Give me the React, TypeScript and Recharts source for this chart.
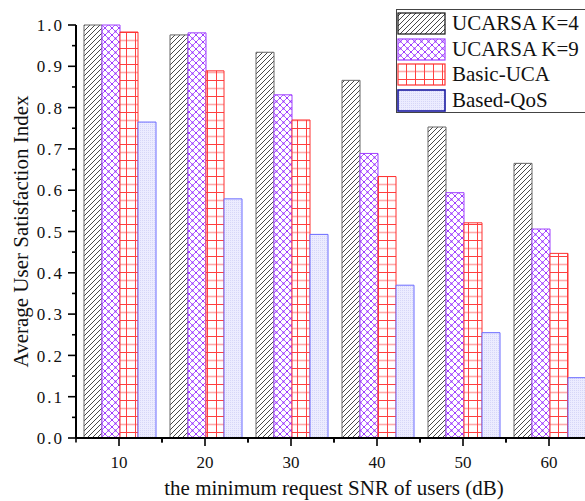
import React from 'react';
import { BarChart, Bar, XAxis, YAxis, Legend } from 'recharts';

const categories = ['10', '20', '30', '40', '50', '60'];
const ucarsaK4 = [1.0, 0.976, 0.934, 0.866, 0.753, 0.665];
const ucarsaK9 = [1.0, 0.981, 0.831, 0.689, 0.594, 0.506];
const basicUCA = [0.983, 0.889, 0.77, 0.633, 0.521, 0.447];
const basedQoS = [0.765, 0.579, 0.493, 0.37, 0.255, 0.146];
const yTicks = [0, 0.05, 0.1, 0.15, 0.2, 0.25, 0.3, 0.35, 0.4, 0.45, 0.5, 0.55, 0.6, 0.65, 0.7, 0.75, 0.8, 0.85, 0.9, 0.95, 1.0];
const seriesNames = ['UCARSA K=4', 'UCARSA K=9', 'Basic-UCA', 'Based-QoS'];

const data = categories.map((c, i) => ({
  snr: c,
  k4: ucarsaK4[i],
  k9: ucarsaK9[i],
  basic: basicUCA[i],
  qos: basedQoS[i],
}));

const FONT = '"Liberation Serif", "Times New Roman", serif';
const CHART_W = 600;
const CHART_H = 501;
const MARGIN = { top: 25, right: 8, bottom: 0, left: 0 };
const Y_W = 76;
const X_H = 63;
const PLOT_W = CHART_W - MARGIN.left - MARGIN.right - Y_W;
const BAND = PLOT_W / categories.length;

const legendItems = [
  { name: seriesNames[0], fill: 'url(#pK4)', stroke: '#111', sw: 1.2 },
  { name: seriesNames[1], fill: 'url(#pK9)', stroke: '#a040ff', sw: 1.2 },
  { name: seriesNames[2], fill: 'url(#pBasic)', stroke: '#ff3030', sw: 1.2 },
  { name: seriesNames[3], fill: 'url(#pQoS)', stroke: '#1a1aa0', sw: 1.6 },
];

const YTick = (props: any) => {
  const { x, y, payload } = props;
  const v = payload.value as number;
  const major = Math.abs(v * 10 - Math.round(v * 10)) < 1e-6;
  const ax = x + 13;
  return (
    <g>
      <line x1={ax - (major ? 8 : 4)} x2={ax} y1={y} y2={y} stroke="#000" strokeWidth={1.6} />
      {major && (
        <text x={x + 1} y={y} dy="0.36em" textAnchor="end" fontFamily={FONT} fontSize={17} letterSpacing={2} fill="#111">
          {v.toFixed(1)}
        </text>
      )}
    </g>
  );
};

const XTick = (props: any) => {
  const { x, y, payload } = props;
  const ay = y - 18;
  return (
    <g>
      <line x1={x} x2={x} y1={ay} y2={ay + 8} stroke="#000" strokeWidth={1.6} />
      <line x1={x - BAND / 2} x2={x - BAND / 2} y1={ay} y2={ay + 4.5} stroke="#000" strokeWidth={1.6} />
      <line x1={x + BAND / 2} x2={x + BAND / 2} y1={ay} y2={ay + 4.5} stroke="#000" strokeWidth={1.6} />
      <text x={x} y={y} dy="0.71em" textAnchor="middle" fontFamily={FONT} fontSize={17} fill="#111">
        {payload.value}
      </text>
    </g>
  );
};

const LegendBox = () => (
  <div
    style={{
      width: 200,
      height: 104,
      border: '1px solid #444',
      background: '#fff',
      boxSizing: 'border-box',
      position: 'relative',
      fontFamily: FONT,
      fontSize: 21,
      color: '#111',
    }}
  >
    {legendItems.map((it, i) => (
      <div
        key={it.name}
        style={{ position: 'absolute', left: 0, top: 2 + i * 25.7, height: 23, display: 'flex', alignItems: 'center' }}
      >
        <svg width={49} height={23} style={{ display: 'block' }}>
          <rect x={1} y={1} width={47} height={21} fill={it.fill} stroke={it.stroke} strokeWidth={it.sw} />
        </svg>
        <span style={{ marginLeft: 6, lineHeight: '23px', whiteSpace: 'nowrap' }}>{it.name}</span>
      </div>
    ))}
  </div>
);

export default function App() {
  return (
    <div>
      <style>{`body{margin:0;overflow:hidden;}`}</style>
      <BarChart
        width={CHART_W}
        height={CHART_H}
        data={data}
        margin={MARGIN}
        barCategoryGap={8}
        barGap={0}
      >
        <defs>
          <pattern id="pK4" patternUnits="userSpaceOnUse" width="5" height="5">
            <rect width="5" height="5" fill="#fff" />
            <path d="M-1,1 L1,-1 M0,5 L5,0 M4,6 L6,4" stroke="#333" strokeWidth="0.9" />
          </pattern>
          <pattern id="pK9" patternUnits="userSpaceOnUse" width="7" height="7">
            <rect width="7" height="7" fill="#fff" />
            <path d="M0,0 L7,7 M7,0 L0,7" stroke="#a64dff" strokeWidth="0.9" />
            <circle cx="3.5" cy="3.5" r="1" fill="#9a33ff" />
            <circle cx="0" cy="0" r="1" fill="#9a33ff" />
            <circle cx="7" cy="0" r="1" fill="#9a33ff" />
            <circle cx="0" cy="7" r="1" fill="#9a33ff" />
            <circle cx="7" cy="7" r="1" fill="#9a33ff" />
          </pattern>
          <pattern id="pBasic" patternUnits="userSpaceOnUse" width="9" height="16">
            <rect width="9" height="16" fill="#fff" />
            <path d="M0,0.5 H9" stroke="#ff4040" strokeWidth="1" />
            <path d="M0,8.5 H9" stroke="#ffaaaa" strokeWidth="1.6" />
            <path d="M0.5,0 V16" stroke="#ff4040" strokeWidth="1" />
          </pattern>
          <pattern id="pQoS" patternUnits="userSpaceOnUse" width="2" height="2">
            <rect width="2" height="2" fill="#ececff" />
            <rect width="1" height="1" fill="#d6d6f8" />
          </pattern>
        </defs>
        <XAxis
          dataKey="snr"
          height={X_H}
          axisLine={{ stroke: '#000', strokeWidth: 2 }}
          tickLine={false}
          tickSize={8}
          tickMargin={10}
          tick={<XTick />}
          interval={0}
          label={{
            value: 'the minimum request SNR of users (dB)',
            position: 'insideBottom',
            offset: 6,
            style: { fontFamily: FONT, fontSize: 21, fill: '#111' },
          }}
        />
        <YAxis
          width={Y_W}
          domain={[0, 1]}
          ticks={yTicks}
          interval={0}
          axisLine={{ stroke: '#000', strokeWidth: 2 }}
          tickLine={false}
          tickSize={6}
          tickMargin={7}
          tick={<YTick />}
          label={{
            value: 'Average User Satisfaction Index',
            angle: -90,
            position: 'insideLeft',
            offset: 21,
            style: { fontFamily: FONT, fontSize: 21, fill: '#111', textAnchor: 'middle' },
          }}
        />
        <Legend
          layout="horizontal"
          verticalAlign="middle"
          align="center"
          content={<LegendBox />}
          wrapperStyle={{ left: 396, top: 9, width: 200, height: 104 }}
        />
        <Bar dataKey="k4" name={seriesNames[0]} fill="url(#pK4)" stroke="#666" strokeWidth={1} isAnimationActive={false} />
        <Bar dataKey="k9" name={seriesNames[1]} fill="url(#pK9)" stroke="#a040ff" strokeWidth={1} isAnimationActive={false} />
        <Bar dataKey="basic" name={seriesNames[2]} fill="url(#pBasic)" stroke="#ff3030" strokeWidth={1} isAnimationActive={false} />
        <Bar dataKey="qos" name={seriesNames[3]} fill="url(#pQoS)" stroke="#6b6bff" strokeWidth={1} isAnimationActive={false} />
      </BarChart>
    </div>
  );
}
